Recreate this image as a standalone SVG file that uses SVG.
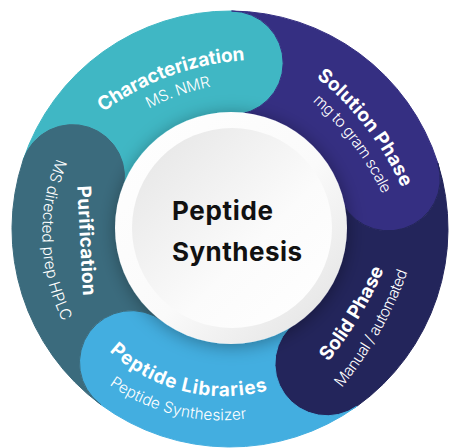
<svg xmlns="http://www.w3.org/2000/svg" width="450" height="448" viewBox="0 0 450 448">
  <style>
    .seg { stroke-width: 1; }
    .ttl { font-family: Inter, "Noto Sans", "Liberation Sans", sans-serif; font-weight: 700; font-size: 19px; fill: #ffffff; }
    .sub { font-family: Inter, "Noto Sans", "Liberation Sans", sans-serif; font-weight: 300; font-size: 15.5px; fill: #ffffff; }
    .ctr { font-family: Inter, "Noto Sans", "Liberation Sans", sans-serif; font-weight: 700; font-size: 26px; fill: #111111; }
  </style>
  <defs>
    <linearGradient id="gOuter" x1="0" y1="0" x2="1" y2="1">
      <stop offset="0" stop-color="#ffffff"/>
      <stop offset="0.55" stop-color="#fafafa"/>
      <stop offset="1" stop-color="#e0e0e0"/>
    </linearGradient>
    <linearGradient id="gInner" x1="0" y1="0" x2="1" y2="1">
      <stop offset="0" stop-color="#e4e4e4"/>
      <stop offset="0.6" stop-color="#fbfbfb"/>
      <stop offset="1" stop-color="#ffffff"/>
    </linearGradient>
    <filter id="shadow" x="-30%" y="-30%" width="160%" height="160%">
      <feDropShadow dx="1" dy="2" stdDeviation="9" flood-color="#000" flood-opacity="0.35"/>
    </filter>
    <path id="pCharT" d="M 103 112 A 270 270 0 0 1 245 60.2"/>
    <path id="pCharS" d="M 148.5 108.6 A 240 240 0 0 1 211 86.7"/>
    <path id="pSolT" d="M 316 77 A 300 300 0 0 1 402 188"/>
    <path id="pSolS" d="M 312 101 A 280 280 0 0 1 382.5 194.5"/>
    <path id="pSolidT" d="M 328 362 A 400 400 0 0 0 384 269.5"/>
    <path id="pSolidS" d="M 341.7 388 A 400 400 0 0 0 407.7 271.6"/>
    <path id="pLibT" d="M 109 351 A 169 169 0 0 0 268 390.3"/>
    <path id="pLibS" d="M 109 384.5 A 194 194 0 0 0 247 418.6"/>
    <path id="pPurT" d="M 77.2 185.9 L 83 296"/>
    <path id="pPurS" d="M 57 158 A 200 200 0 0 0 63 322"/>
  </defs>

  <g id="connectors"/>

  <g id="node-characterization">
    <path class="seg" fill="#40B7C4" stroke="#40B7C4" d="M 23.14 160.19 A 218 218 0 0 1 231.52 11 A 52 52 0 0 1 230.8 115 L 230.66 134 A 95 95 0 0 0 139.86 199.01 L 121.83 193.02 A 52 52 0 0 0 23.14 160.19 Z"/>
    <text class="ttl"><textPath href="#pCharT" startOffset="50%" text-anchor="middle" textLength="153">Characterization</textPath></text>
    <text class="sub"><textPath href="#pCharS" startOffset="50%" text-anchor="middle" textLength="66">MS. NMR</textPath></text>
  </g>

  <g id="node-solution-phase">
    <path class="seg" fill="#352F82" stroke="#352F82" d="M 231.52 11 A 218 218 0 0 1 437.8 163.08 A 52 52 0 0 1 338.66 194.53 L 320.55 200.27 A 95 95 0 0 0 230.66 134 L 230.8 115 A 52 52 0 0 0 231.52 11 Z"/>
    <text class="ttl"><textPath href="#pSolT" startOffset="50%" text-anchor="middle" textLength="141">Solution Phase</textPath></text>
    <text class="sub"><textPath href="#pSolS" startOffset="50%" text-anchor="middle" textLength="117">mg to gram scale</textPath></text>
  </g>

  <g id="node-solid-phase">
    <path class="seg" fill="#23255B" stroke="#23255B" d="M 437.8 163.08 A 218 218 0 0 1 356.9 406.25 A 52 52 0 0 1 296.36 321.69 L 285.3 306.24 A 95 95 0 0 0 320.55 200.27 L 338.66 194.53 A 52 52 0 0 0 437.8 163.08 Z"/>
    <text class="ttl"><textPath href="#pSolidT" startOffset="50%" text-anchor="middle" textLength="108">Solid Phase</textPath></text>
    <text class="sub"><textPath href="#pSolidS" startOffset="50%" text-anchor="middle" textLength="134">Manual / automated</textPath></text>
  </g>

  <g id="node-peptide-libraries">
    <path class="seg" fill="#43AEE0" stroke="#43AEE0" d="M 356.9 406.25 A 218 218 0 0 1 100.63 404.47 A 52 52 0 0 1 162.35 320.76 L 173.63 305.46 A 95 95 0 0 0 285.3 306.24 L 296.36 321.69 A 52 52 0 0 0 356.9 406.25 Z"/>
    <text class="ttl"><textPath href="#pLibT" startOffset="50%" text-anchor="middle" textLength="170">Peptide Libraries</textPath></text>
    <text class="sub"><textPath href="#pLibS" startOffset="50%" text-anchor="middle" textLength="145">Peptide Synthesizer</textPath></text>
  </g>

  <g id="node-purification">
    <path class="seg" fill="#3B6B7D" stroke="#3B6B7D" d="M 100.63 404.47 A 218 218 0 0 1 23.14 160.19 A 52 52 0 0 1 121.83 193.02 L 139.86 199.01 A 95 95 0 0 0 173.63 305.46 L 162.35 320.76 A 52 52 0 0 0 100.63 404.47 Z"/>
    <text class="ttl"><textPath href="#pPurT" startOffset="50%" text-anchor="middle" textLength="110">Purification</textPath></text>
    <text class="sub"><textPath href="#pPurS" startOffset="50%" text-anchor="middle" textLength="168">MS directed prep HPLC</textPath></text>
  </g>

  <g id="node-peptide-synthesis">
    <circle cx="231" cy="228" r="116" fill="url(#gOuter)" filter="url(#shadow)"/>
    <circle cx="232" cy="228" r="100" fill="url(#gInner)"/>
    <text class="ctr" x="172" y="220" textLength="101">Peptide</text>
    <text class="ctr" x="172" y="261" textLength="130">Synthesis</text>
  </g>
</svg>
